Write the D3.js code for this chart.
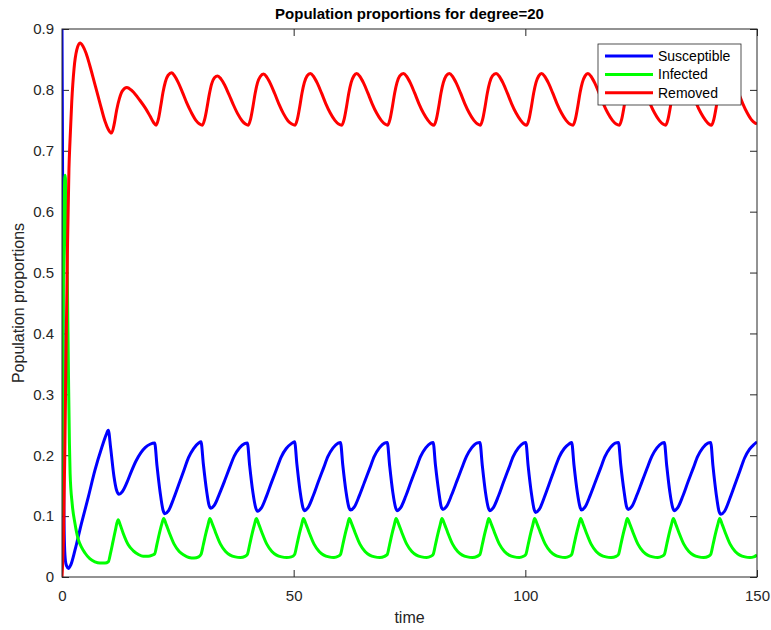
<!DOCTYPE html>
<html>
<head>
<meta charset="utf-8">
<script src="https://cdn.jsdelivr.net/npm/d3@7"></script>
<style>
  body { margin: 0; background: #fff; }
  text { font-family: "Liberation Sans", Arial, Helvetica, sans-serif; }
</style>
</head>
<body>
<div id="viz"></div>
<script>
const width = 771;
const height = 630;
const margin = { top: 29, right: 14, bottom: 53, left: 62 };

const title = 'Population proportions for degree=20';
const xLabel = 'time';
const yLabel = 'Population proportions';

const xTicks = [0, 50, 100, 150];
const yTicks = [0, 0.1, 0.2, 0.3, 0.4, 0.5, 0.6, 0.7, 0.8, 0.9];
const yTickLabels = ['0', '0.1', '0.2', '0.3', '0.4', '0.5', '0.6', '0.7', '0.8', '0.9'];

const seriesNames = ['Susceptible', 'Infected', 'Removed'];
const seriesColors = ['#0000ff', '#00ff00', '#ff0000'];

// [time, proportion]
const susceptible = [
  [0, 0.9], [0.1, 0.72], [0.2, 0.48], [0.3, 0.26], [0.4, 0.12], [0.55, 0.05], [0.75, 0.026], [1.0, 0.018],
  [1.4, 0.014], [1.9, 0.02], [2.8, 0.044], [4.2, 0.088], [5.7, 0.132], [7.1, 0.175], [8.6, 0.213], [9.5, 0.233], [10.0, 0.241],
  [10.5, 0.212], [11.2, 0.166], [11.8, 0.142], [12.3, 0.136], [13.0, 0.140], [14.0, 0.155], [15.0, 0.174], [16.0, 0.191], [17.0, 0.204], [18.0, 0.213], [19.0, 0.218], [20.0, 0.220],
  [20.5, 0.183], [21.2, 0.138], [21.8, 0.110], [22.2, 0.104], [23.0, 0.109], [24.1, 0.129], [25.2, 0.152], [26.3, 0.175], [27.3, 0.196], [28.4, 0.211], [29.5, 0.220], [30.0, 0.222],
  [30.5, 0.186], [31.2, 0.142], [31.7, 0.119], [32.1, 0.113], [32.9, 0.118], [34.0, 0.137], [35.1, 0.158], [36.2, 0.180], [37.2, 0.199], [38.3, 0.212], [39.4, 0.219], [40.0, 0.220],
  [40.5, 0.183], [41.2, 0.139], [41.8, 0.114], [42.2, 0.108], [43.0, 0.113], [44.1, 0.132], [45.2, 0.155], [46.3, 0.177], [47.3, 0.197], [48.4, 0.211], [49.5, 0.219], [50.2, 0.222],
  [50.7, 0.185], [51.4, 0.140], [52.0, 0.114], [52.3, 0.109], [53.1, 0.114], [54.2, 0.133], [55.3, 0.156], [56.4, 0.178], [57.4, 0.198], [58.5, 0.212], [59.6, 0.220], [60.1, 0.221],
  [60.6, 0.184], [61.3, 0.140], [61.9, 0.115], [62.3, 0.110], [63.1, 0.115], [64.2, 0.134], [65.3, 0.156], [66.4, 0.178], [67.4, 0.198], [68.5, 0.212], [69.6, 0.220], [70.2, 0.221],
  [70.7, 0.184], [71.4, 0.139], [72.0, 0.114], [72.3, 0.109], [73.1, 0.114], [74.2, 0.133], [75.3, 0.156], [76.4, 0.178], [77.4, 0.198], [78.5, 0.212], [79.6, 0.220], [80.1, 0.221],
  [80.6, 0.184], [81.3, 0.141], [81.8, 0.117], [82.2, 0.111], [83.0, 0.116], [84.1, 0.135], [85.2, 0.157], [86.3, 0.179], [87.3, 0.198], [88.4, 0.212], [89.5, 0.220], [90.2, 0.221],
  [90.7, 0.184], [91.4, 0.139], [92.0, 0.114], [92.3, 0.109], [93.1, 0.114], [94.2, 0.133], [95.3, 0.156], [96.4, 0.178], [97.4, 0.198], [98.5, 0.212], [99.6, 0.220], [100.1, 0.221],
  [100.6, 0.183], [101.3, 0.138], [101.9, 0.111], [102.2, 0.106], [103.0, 0.111], [104.1, 0.131], [105.2, 0.154], [106.3, 0.177], [107.3, 0.197], [108.4, 0.211], [109.5, 0.219], [110.0, 0.221],
  [110.5, 0.184], [111.2, 0.140], [111.8, 0.115], [112.1, 0.110], [112.9, 0.115], [114.0, 0.134], [115.1, 0.156], [116.2, 0.178], [117.2, 0.198], [118.3, 0.212], [119.4, 0.220], [120.1, 0.221],
  [120.6, 0.184], [121.3, 0.141], [121.8, 0.117], [122.2, 0.111], [123.0, 0.116], [124.1, 0.135], [125.2, 0.157], [126.3, 0.179], [127.3, 0.198], [128.4, 0.212], [129.5, 0.220], [130.0, 0.221],
  [130.5, 0.184], [131.2, 0.139], [131.8, 0.114], [132.1, 0.109], [132.9, 0.114], [134.0, 0.133], [135.1, 0.156], [136.2, 0.178], [137.2, 0.198], [138.3, 0.212], [139.4, 0.220], [140.0, 0.221],
  [140.5, 0.182], [141.2, 0.136], [141.8, 0.108], [142.2, 0.103], [143.0, 0.108], [144.1, 0.128], [145.2, 0.151], [146.3, 0.174], [147.3, 0.195], [148.4, 0.210], [149.4, 0.218], [150.0, 0.222]
];

const infected = [
  [0, 0.10], [0.15, 0.30], [0.3, 0.48], [0.45, 0.60], [0.6, 0.655], [0.7, 0.66], [0.85, 0.62], [1.0, 0.56], [1.15, 0.49],
  [1.4, 0.33], [1.6, 0.22], [1.75, 0.17], [2.2, 0.12], [2.8, 0.088], [3.5, 0.062], [4.2, 0.049], [5.0, 0.039], [6.0, 0.030], [7.1, 0.025], [8.2, 0.023], [9.3, 0.023], [10.0, 0.025],
  [10.5, 0.040], [11.0, 0.058], [11.5, 0.076], [12.1, 0.094], [12.6, 0.085], [13.2, 0.072], [14.3, 0.053], [15.4, 0.043], [16.5, 0.037], [17.5, 0.034], [18.6, 0.034], [19.5, 0.036], [20.0, 0.038],
  [20.5, 0.054], [21.0, 0.071], [21.5, 0.086], [21.95, 0.096], [22.5, 0.086], [23.1, 0.074], [24.2, 0.054], [25.3, 0.042], [26.3, 0.036], [27.4, 0.032], [28.5, 0.031], [29.5, 0.033], [30.0, 0.037],
  [30.5, 0.053], [31.0, 0.070], [31.5, 0.085], [31.9, 0.096], [32.5, 0.086], [33.1, 0.074], [34.2, 0.054], [35.3, 0.042], [36.3, 0.036], [37.4, 0.033], [38.5, 0.032], [39.5, 0.034], [40.0, 0.037],
  [40.5, 0.053], [41.0, 0.070], [41.5, 0.085], [41.95, 0.096], [42.5, 0.086], [43.1, 0.074], [44.2, 0.054], [45.3, 0.042], [46.3, 0.036], [47.4, 0.033], [48.5, 0.032], [49.5, 0.033], [50.2, 0.037],
  [50.7, 0.053], [51.2, 0.070], [51.7, 0.085], [52.1, 0.096], [52.7, 0.086], [53.3, 0.074], [54.4, 0.054], [55.5, 0.042], [56.5, 0.036], [57.6, 0.033], [58.7, 0.032], [59.6, 0.034], [60.1, 0.037],
  [60.6, 0.053], [61.1, 0.070], [61.6, 0.085], [62.0, 0.096], [62.6, 0.086], [63.2, 0.074], [64.3, 0.054], [65.4, 0.042], [66.4, 0.036], [67.5, 0.033], [68.6, 0.032], [69.6, 0.034], [70.2, 0.037],
  [70.7, 0.053], [71.2, 0.070], [71.7, 0.085], [72.1, 0.096], [72.7, 0.086], [73.3, 0.074], [74.4, 0.054], [75.5, 0.042], [76.5, 0.036], [77.6, 0.033], [78.7, 0.032], [79.6, 0.034], [80.1, 0.037],
  [80.6, 0.053], [81.1, 0.070], [81.6, 0.085], [82.0, 0.096], [82.6, 0.086], [83.2, 0.074], [84.3, 0.054], [85.4, 0.042], [86.4, 0.036], [87.5, 0.033], [88.6, 0.032], [89.6, 0.034], [90.2, 0.037],
  [90.7, 0.053], [91.2, 0.070], [91.7, 0.085], [92.1, 0.096], [92.7, 0.086], [93.3, 0.074], [94.4, 0.054], [95.5, 0.042], [96.5, 0.036], [97.6, 0.033], [98.7, 0.032], [99.6, 0.034], [100.1, 0.037],
  [100.6, 0.053], [101.1, 0.070], [101.6, 0.085], [102.0, 0.096], [102.6, 0.086], [103.2, 0.074], [104.3, 0.054], [105.4, 0.042], [106.4, 0.036], [107.5, 0.033], [108.6, 0.032], [109.5, 0.034], [110.0, 0.037],
  [110.5, 0.053], [111.0, 0.070], [111.5, 0.085], [111.95, 0.096], [112.5, 0.086], [113.1, 0.074], [114.2, 0.054], [115.3, 0.042], [116.3, 0.036], [117.4, 0.033], [118.5, 0.032], [119.6, 0.034], [120.1, 0.037],
  [120.6, 0.053], [121.1, 0.070], [121.6, 0.085], [122.0, 0.096], [122.6, 0.086], [123.2, 0.074], [124.3, 0.054], [125.4, 0.042], [126.4, 0.036], [127.5, 0.033], [128.6, 0.032], [129.5, 0.034], [130.0, 0.037],
  [130.5, 0.053], [131.0, 0.070], [131.5, 0.085], [131.95, 0.096], [132.5, 0.086], [133.1, 0.074], [134.2, 0.054], [135.3, 0.042], [136.3, 0.036], [137.4, 0.033], [138.5, 0.032], [139.5, 0.034], [140.0, 0.037],
  [140.5, 0.053], [141.0, 0.070], [141.5, 0.085], [141.95, 0.096], [142.5, 0.086], [143.1, 0.074], [144.2, 0.054], [145.3, 0.042], [146.3, 0.036], [147.4, 0.033], [148.5, 0.032], [149.3, 0.033], [150.0, 0.036]
];

const removed = [
  [0, 0], [0.3, 0.06], [0.6, 0.2], [0.86, 0.36], [1.2, 0.55], [1.5, 0.67], [1.75, 0.72], [2.1, 0.78], [2.6, 0.835], [3.2, 0.866], [3.9, 0.877],
  [4.5, 0.872], [5.2, 0.86], [6.0, 0.84], [7.0, 0.812], [8.2, 0.778], [9.3, 0.748], [10.0, 0.735], [10.7, 0.729],
  [11.3, 0.745], [11.8, 0.767], [12.4, 0.786], [13.0, 0.798], [14.0, 0.804], [15.2, 0.798], [16.8, 0.783], [18.0, 0.770], [19.0, 0.757], [19.8, 0.746], [20.3, 0.742],
  [20.8, 0.752], [21.3, 0.773], [21.8, 0.796], [22.3, 0.813], [22.9, 0.824], [23.7, 0.828], [24.3, 0.823], [25.1, 0.812], [26.0, 0.796], [26.9, 0.779], [27.9, 0.763], [28.9, 0.750], [29.7, 0.744], [30.3, 0.742],
  [30.8, 0.752], [31.3, 0.771], [31.8, 0.793], [32.3, 0.810], [32.9, 0.820], [33.6, 0.823], [34.3, 0.818], [35.1, 0.808], [36.0, 0.793], [36.9, 0.777], [37.9, 0.761], [38.9, 0.749], [39.6, 0.744], [40.2, 0.742],
  [40.7, 0.752], [41.2, 0.772], [41.7, 0.795], [42.2, 0.812], [42.8, 0.822], [43.5, 0.826], [44.2, 0.821], [45.0, 0.810], [45.9, 0.794], [46.8, 0.777], [47.8, 0.761], [48.8, 0.749], [49.6, 0.744], [50.3, 0.742],
  [50.8, 0.752], [51.3, 0.772], [51.8, 0.795], [52.3, 0.812], [52.9, 0.823], [53.6, 0.827], [54.3, 0.822], [55.1, 0.811], [56.0, 0.795], [56.9, 0.778], [57.9, 0.762], [58.9, 0.750], [59.7, 0.744], [60.4, 0.742],
  [60.9, 0.752], [61.4, 0.772], [61.9, 0.795], [62.4, 0.812], [63.0, 0.823], [63.6, 0.827], [64.3, 0.822], [65.1, 0.811], [66.0, 0.795], [66.9, 0.778], [67.9, 0.762], [68.9, 0.750], [69.7, 0.744], [70.3, 0.742],
  [70.8, 0.752], [71.3, 0.772], [71.8, 0.795], [72.3, 0.812], [72.9, 0.823], [73.7, 0.827], [74.4, 0.822], [75.2, 0.811], [76.1, 0.795], [77.0, 0.778], [78.0, 0.762], [79.0, 0.750], [79.7, 0.744], [80.3, 0.742],
  [80.8, 0.752], [81.3, 0.772], [81.8, 0.795], [82.3, 0.812], [82.9, 0.823], [83.6, 0.827], [84.3, 0.822], [85.1, 0.811], [86.0, 0.795], [86.9, 0.778], [87.9, 0.762], [88.9, 0.750], [89.7, 0.744], [90.3, 0.742],
  [90.8, 0.752], [91.3, 0.772], [91.8, 0.795], [92.3, 0.812], [92.9, 0.823], [93.7, 0.827], [94.4, 0.822], [95.2, 0.811], [96.1, 0.795], [97.0, 0.778], [98.0, 0.762], [99.0, 0.750], [99.7, 0.744], [100.3, 0.742],
  [100.8, 0.752], [101.3, 0.772], [101.8, 0.795], [102.3, 0.812], [102.9, 0.823], [103.5, 0.827], [104.2, 0.822], [105.0, 0.811], [105.9, 0.795], [106.8, 0.778], [107.8, 0.762], [108.8, 0.750], [109.6, 0.744], [110.3, 0.742],
  [110.8, 0.752], [111.3, 0.772], [111.8, 0.795], [112.3, 0.812], [112.9, 0.823], [113.5, 0.827], [114.2, 0.822], [115.0, 0.811], [115.9, 0.795], [116.8, 0.778], [117.8, 0.762], [118.8, 0.750], [119.6, 0.744], [120.3, 0.742],
  [120.8, 0.752], [121.3, 0.772], [121.8, 0.795], [122.3, 0.812], [122.9, 0.823], [123.6, 0.827], [124.3, 0.822], [125.1, 0.811], [126.0, 0.795], [126.9, 0.778], [127.9, 0.762], [128.9, 0.750], [129.7, 0.744], [130.3, 0.742],
  [130.8, 0.752], [131.3, 0.772], [131.8, 0.795], [132.3, 0.812], [132.9, 0.823], [133.6, 0.827], [134.3, 0.822], [135.1, 0.811], [136.0, 0.795], [136.9, 0.778], [137.9, 0.762], [138.9, 0.750], [139.6, 0.744], [140.2, 0.742],
  [140.7, 0.752], [141.2, 0.772], [141.7, 0.795], [142.2, 0.812], [142.8, 0.823], [143.6, 0.827], [144.3, 0.822], [145.1, 0.811], [146.0, 0.795], [146.9, 0.778], [147.9, 0.762], [148.9, 0.750], [149.5, 0.746], [150.0, 0.744]
];

const series = [susceptible, infected, removed];

const axisColor = '#262626';
const tickLen = 7;

const x = d3.scaleLinear()
  .domain([0, 150])
  .range([margin.left, width - margin.right]);

const y = d3.scaleLinear()
  .domain([0, 0.9])
  .range([height - margin.bottom, margin.top]);

const svg = d3.select('#viz').append('svg')
  .attr('width', width)
  .attr('height', height)
  .attr('viewBox', [0, 0, width, height]);

svg.append('rect')
  .attr('width', width)
  .attr('height', height)
  .attr('fill', '#fff');

svg.append('defs')
  .append('clipPath')
  .attr('id', 'plot-clip')
  .append('rect')
  .attr('x', x(0))
  .attr('y', y(0.9))
  .attr('width', x(150) - x(0))
  .attr('height', y(0) - y(0.9));

// axes, ticks point inward like matlab
const yFmt = (d, i) => yTickLabels[i];

const styleAxis = g => {
  g.select('.domain').remove();
  g.selectAll('line').attr('stroke', axisColor);
  g.selectAll('text')
    .attr('fill', axisColor)
    .style('font-size', '15px');
};

svg.append('g')
  .attr('transform', `translate(${x(0)},0)`)
  .call(d3.axisLeft(y).tickValues(yTicks).tickFormat(yFmt).tickSize(-tickLen).tickPadding(8))
  .call(styleAxis);

svg.append('g')
  .attr('transform', `translate(${x(150)},0)`)
  .call(d3.axisRight(y).tickValues(yTicks).tickFormat('').tickSize(-tickLen))
  .call(styleAxis);

svg.append('g')
  .attr('transform', `translate(0,${y(0)})`)
  .call(d3.axisBottom(x).tickValues(xTicks).tickFormat(d3.format('d')).tickSize(-tickLen).tickPadding(13))
  .call(styleAxis);

svg.append('g')
  .attr('transform', `translate(0,${y(0.9)})`)
  .call(d3.axisTop(x).tickValues(xTicks).tickFormat('').tickSize(-tickLen))
  .call(styleAxis);

let line = d3.line()
  .curve(d3.curveMonotoneX)
  .x(d => x(d[0]))
  .y(d => y(d[1]));

svg.append('g')
  .attr('clip-path', 'url(#plot-clip)')
  .selectAll('.series')
  .data(series)
  .enter()
  .append('path')
  .attr('class', 'series')
  .attr('fill', 'none')
  .attr('stroke', (d, i) => seriesColors[i])
  .attr('stroke-width', 3)
  .attr('stroke-linejoin', 'round')
  .attr('d', line);

svg.append('rect')
  .attr('x', x(0))
  .attr('y', y(0.9))
  .attr('width', x(150) - x(0))
  .attr('height', y(0) - y(0.9))
  .attr('fill', 'none')
  .attr('stroke', axisColor)
  .attr('stroke-width', 1);

svg.append('text')
  .attr('x', (x(0) + x(150)) / 2)
  .attr('y', 19)
  .attr('text-anchor', 'middle')
  .style('font-size', '15px')
  .style('font-weight', 'bold')
  .attr('fill', '#000')
  .text(title);

svg.append('text')
  .attr('x', (x(0) + x(150)) / 2)
  .attr('y', 623)
  .attr('text-anchor', 'middle')
  .style('font-size', '16px')
  .attr('fill', axisColor)
  .text(xLabel);

svg.append('text')
  .attr('transform', `translate(24,${(y(0) + y(0.9)) / 2}) rotate(-90)`)
  .attr('text-anchor', 'middle')
  .style('font-size', '16px')
  .attr('fill', axisColor)
  .text(yLabel);

// legend
const legend = svg.append('g')
  .attr('transform', 'translate(598,44)');

legend.append('rect')
  .attr('width', 143)
  .attr('height', 61)
  .attr('fill', '#fff')
  .attr('stroke', axisColor)
  .attr('stroke-width', 0.8);

const item = legend.selectAll('.item')
  .data(seriesNames)
  .enter()
  .append('g')
  .attr('class', 'item')
  .attr('transform', (d, i) => `translate(0,${12 + i * 18.4})`);

item.append('line')
  .attr('x1', 7)
  .attr('x2', 55)
  .attr('stroke', (d, i) => seriesColors[i])
  .attr('stroke-width', 3);

item.append('text')
  .attr('x', 60)
  .attr('dy', '0.35em')
  .style('font-size', '14px')
  .attr('fill', '#000')
  .text(d => d);
</script>
</body>
</html>
